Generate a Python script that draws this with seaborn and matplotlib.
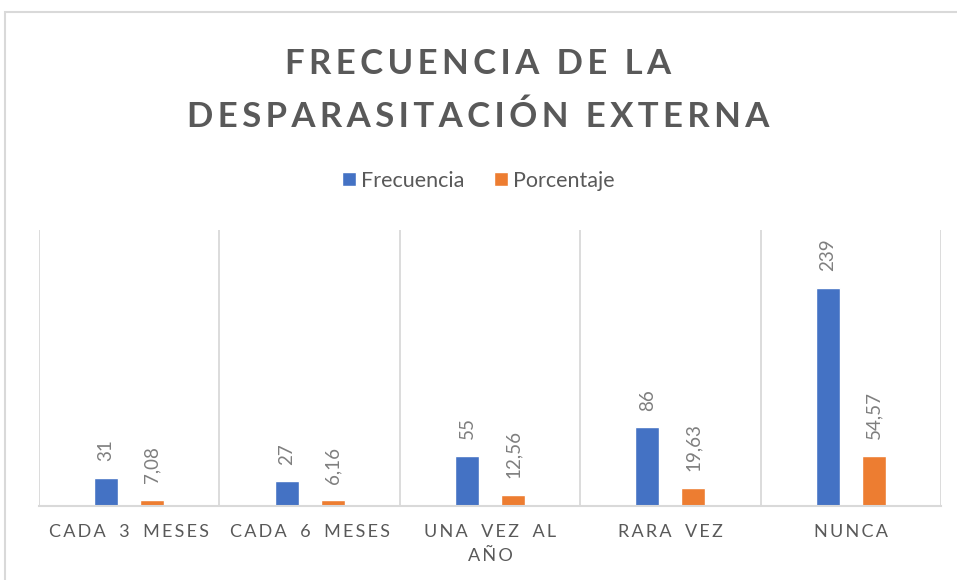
import pandas as pd
import matplotlib
matplotlib.use("Agg")
import matplotlib.pyplot as plt
from matplotlib.patches import Patch
import seaborn as sns

# ------------------------------ data ------------------------------
categorias = ["CADA 3 MESES", "CADA 6 MESES", "UNA VEZ AL AÑO", "RARA VEZ", "NUNCA"]
etiquetas_x = ["CADA 3 MESES", "CADA 6 MESES", "UNA VEZ AL\nAÑO", "RARA VEZ", "NUNCA"]
frecuencia = [31, 27, 55, 86, 239]
porcentaje = [7.08, 6.16, 12.56, 19.63, 54.57]
series = ["Frecuencia", "Porcentaje"]

df = pd.DataFrame({
    "categoria": categorias * 2,
    "serie": [series[0]] * 5 + [series[1]] * 5,
    "valor": frecuencia + porcentaje,
})

GRIS = "#595959"
LINEA = "#d9d9d9"


def espaciar(texto, sep="\u2009", hueco="\u2002"):
    # Excel-style letter spacing
    return "\n".join(sep.join(list(linea)).replace(" ", hueco) for linea in texto.split("\n"))


sns.set_style("white")
plt.rcParams["font.family"] = ["Lato", "DejaVu Sans"]

fig = plt.figure(figsize=(9.57, 5.8), dpi=100)
ax = fig.add_axes([39 / 957, 0.1276, 902 / 957, 0.4758])

sns.barplot(data=df, x="categoria", y="valor", hue="serie", order=categorias,
            hue_order=series, palette=["#4472C4", "#ED7D31"], width=0.51, gap=0.48,
            saturation=1, errorbar=None, ax=ax, legend=False)

ax.set_ylim(0, 302)
ax.set_xlim(-0.5, 4.5)
ax.set_yticks([])
ax.set_xlabel("")
ax.set_ylabel("")

# category separators
ax.set_xticks([i + 0.5 for i in range(-1, 5)], minor=True)
ax.grid(True, which="minor", axis="x", color=LINEA, lw=1.3)
ax.tick_params(axis="x", which="both", length=0)
ax.set_xticks(range(5))
ax.set_xticklabels([espaciar(t) for t in etiquetas_x], fontsize=13, color=GRIS,
                   linespacing=1.6)
ax.tick_params(axis="x", pad=13)

for s in ["top", "left", "right"]:
    ax.spines[s].set_visible(False)
ax.spines["bottom"].set_color(LINEA)
ax.spines["bottom"].set_linewidth(1.5)

# data labels
textos = [[str(v) for v in frecuencia], [f"{v:.2f}".replace(".", ",") for v in porcentaje]]
for cont, labs in zip(ax.containers, textos):
    ax.bar_label(cont, labels=labs, rotation=90, padding=12, fontsize=13.5, color="#7f7f7f")

# title
fig.text(0.5, 1 - 74 / 580, espaciar("FRECUENCIA DE LA", hueco=" "), ha="center",
         va="baseline", fontsize=25, fontweight="bold", color=GRIS)
fig.text(0.5, 1 - 127 / 580, espaciar("DESPARASITACIÓN EXTERNA", hueco=" "), ha="center",
         va="baseline", fontsize=25, fontweight="bold", color=GRIS)

# legend
handles = [Patch(facecolor="#4472C4"), Patch(facecolor="#ED7D31")]
fig.legend(handles, series, loc="center", bbox_to_anchor=(0.5, 1 - 181 / 580), ncol=2,
           frameon=False, fontsize=15.5, labelcolor=GRIS, handlelength=0.62,
           handleheight=0.62, handletextpad=0.25, columnspacing=1.4)

# chart border
fig.add_artist(plt.Rectangle((5 / 957, -0.1), 1.2, 1.1 - 12 / 580, transform=fig.transFigure,
                             fill=False, edgecolor=LINEA, lw=1.5))

fig.savefig("out.png", dpi=100)
